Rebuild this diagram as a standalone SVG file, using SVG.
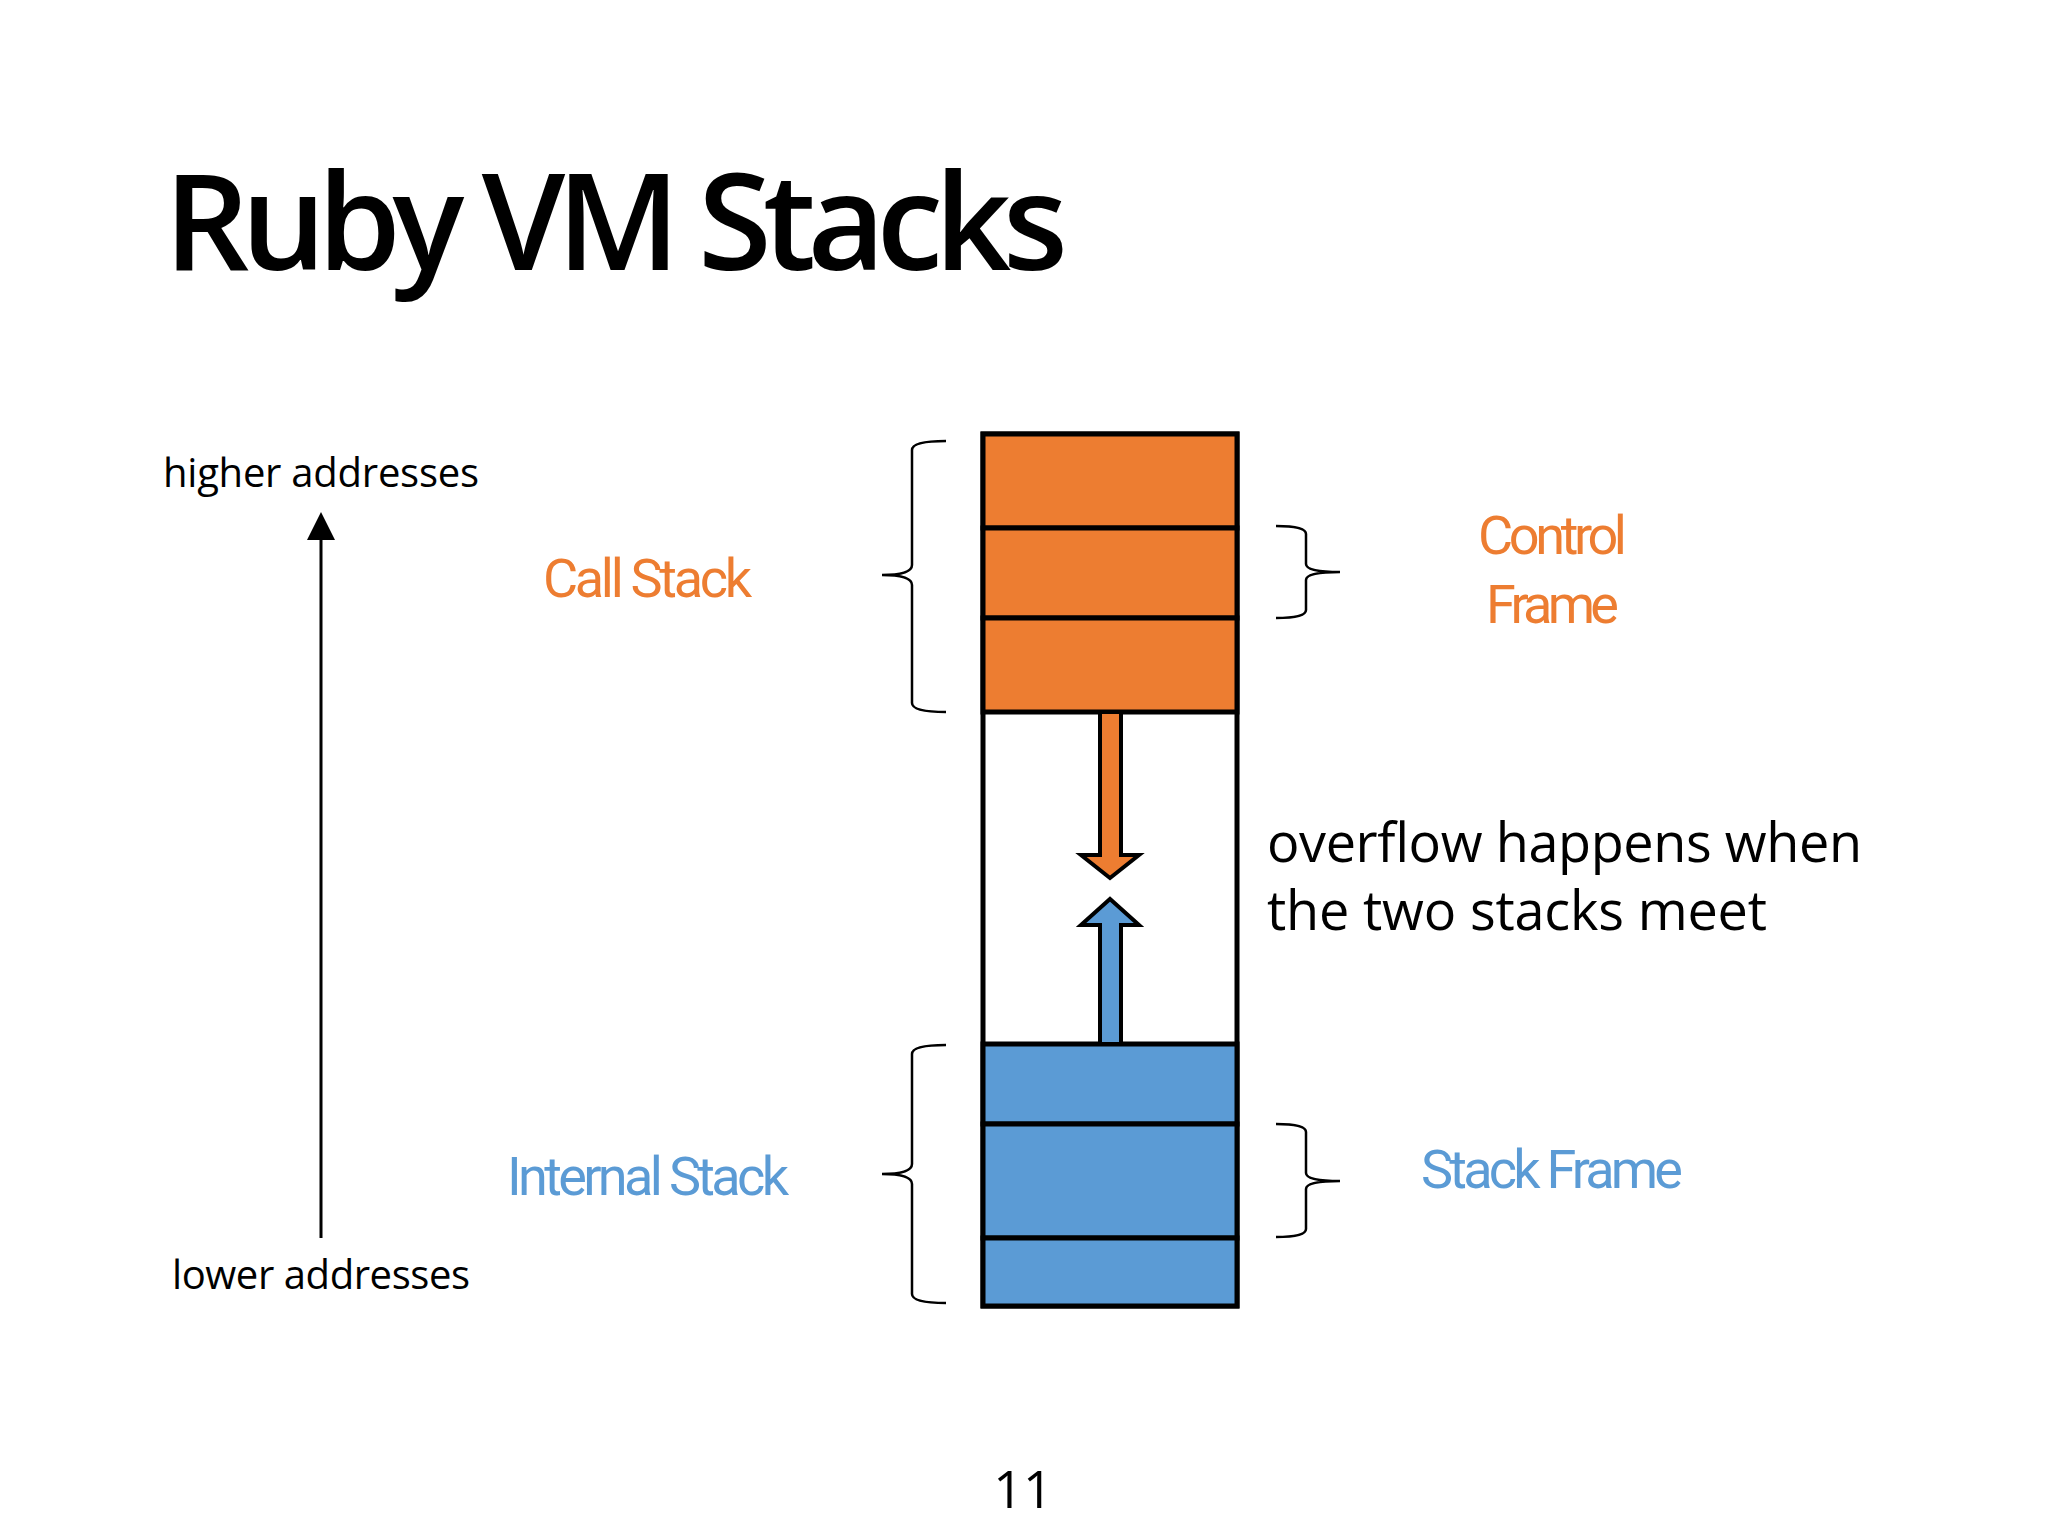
<svg xmlns="http://www.w3.org/2000/svg" width="2048" height="1536" viewBox="0 0 2048 1536">
<style>
.t{font-family:"Open Sans","Noto Sans",sans-serif;fill:#000}
.c{font-family:Roboto,"Liberation Sans",sans-serif}
.o{fill:#ED7D31}.b{fill:#5B9BD5}
.s{stroke:#000;stroke-width:5}
.br{fill:none;stroke:#000;stroke-width:2.5}
</style>
<defs><marker id="ah" markerWidth="10" markerHeight="10" refX="5" refY="9" orient="auto" markerUnits="userSpaceOnUse" viewBox="0 0 10 10"><path d="M0,10 L5,0 L10,10Z" fill="#000"/></marker></defs>
<rect width="2048" height="1536" fill="#fff"/>
<text class="t" x="164" y="270" font-size="134" font-weight="600" textLength="904">Ruby VM Stacks</text>
<g id="axis">
<text class="t" x="163" y="487" font-size="40" textLength="316">higher addresses</text>
<line x1="321" y1="1238" x2="321" y2="516" stroke="#000" stroke-width="3"/>
<path d="M307,540 L321,512 L335,540Z" fill="#000"/>
<text class="t" x="172" y="1289" font-size="40" textLength="298">lower addresses</text>
</g>
<g id="stack">
<rect x="983" y="434" width="254" height="872" fill="#fff" class="s"/>
<rect x="983" y="434" width="254" height="94" class="o s"/>
<rect x="983" y="528" width="254" height="90" class="o s"/>
<rect x="983" y="618" width="254" height="94" class="o s"/>
<rect x="983" y="1044" width="254" height="80" class="b s"/>
<rect x="983" y="1124" width="254" height="114" class="b s"/>
<rect x="983" y="1238" width="254" height="68" class="b s"/>
</g>
<g id="connectors">
<path d="M1100,712 L1121,712 L1121,855 L1139,855 L1110,878 L1081,855 L1100,855Z" class="o" stroke="#000" stroke-width="4"/>
<path d="M1100,1044 L1121,1044 L1121,925 L1139,925 L1110,899 L1081,925 L1100,925Z" class="b" stroke="#000" stroke-width="4"/>
</g>
<g id="braces">
<path class="br" d="M946,441 Q912,441 912,450 L912,565 Q912,575 882,575 Q912,575 912,585 L912,703 Q912,712 946,712"/>
<path class="br" d="M946,1045 Q912,1045 912,1054 L912,1164 Q912,1174 882,1174 Q912,1174 912,1184 L912,1294 Q912,1303 946,1303"/>
<path class="br" d="M1276,526 Q1306,526 1306,534 L1306,564 Q1306,572 1340,572 Q1306,572 1306,580 L1306,610 Q1306,618 1276,618"/>
<path class="br" d="M1276,1124 Q1306,1124 1306,1132 L1306,1173 Q1306,1181 1340,1181 Q1306,1181 1306,1189 L1306,1229 Q1306,1237 1276,1237"/>
</g>
<g id="labels">
<text class="c o" x="543" y="597" font-size="54" textLength="209">Call Stack</text>
<text class="c b" x="507" y="1195" font-size="54" textLength="282">Internal Stack</text>
<text class="c o" x="1478" y="554" font-size="54" textLength="149">Control</text>
<text class="c o" x="1486" y="623" font-size="54" textLength="133">Frame</text>
<text class="c b" x="1421" y="1188" font-size="54" textLength="262">Stack Frame</text>
<text class="t" x="1267" y="862" font-size="54" textLength="595">overflow happens when</text>
<text class="t" x="1267" y="930" font-size="54" textLength="500">the two stacks meet</text>
<text class="t" x="1023" y="1508" font-size="52" text-anchor="middle">11</text>
</g>
</svg>
